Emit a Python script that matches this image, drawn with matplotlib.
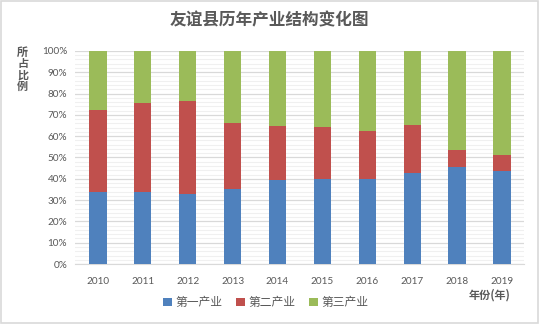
import matplotlib.pyplot as plt
import numpy as np
from matplotlib.patches import Rectangle
from matplotlib.ticker import MultipleLocator, PercentFormatter

plt.rcParams['font.family'] = ['Lato', 'Noto Sans CJK SC', 'DejaVu Sans']

# 历年三次产业占比 (%)
years = ['2010', '2011', '2012', '2013', '2014', '2015', '2016', '2017', '2018', '2019']
primary = [33.9, 34.0, 33.0, 35.2, 39.6, 39.9, 39.9, 42.7, 45.5, 43.7]
secondary = [38.4, 41.6, 43.5, 31.0, 25.2, 24.4, 22.5, 22.6, 8.2, 7.5]
tertiary = [27.7, 24.4, 23.5, 33.8, 35.2, 35.7, 37.6, 34.7, 46.3, 48.8]
labels = ['第一产业', '第二产业', '第三产业']
colors = ['#4F81BD', '#C0504D', '#9BBB59']

grey = '#595959'

fig = plt.figure(figsize=(5.39, 3.24), dpi=100)
ax = fig.add_axes([0.140, 0.185, 0.833, 0.658])

x = np.arange(len(years))
p = np.array(primary)
s = np.array(secondary)
t = np.array(tertiary)
w = 0.385
ax.bar(x, p, w, color=colors[0], label=labels[0], zorder=3)
ax.bar(x, s, w, bottom=p, color=colors[1], label=labels[1], zorder=3)
ax.bar(x, t, w, bottom=p + s, color=colors[2], label=labels[2], zorder=3)

ax.set_xlim(-0.5, len(years) - 0.5)
ax.set_ylim(0, 100)
ax.yaxis.set_major_locator(MultipleLocator(10))
ax.yaxis.set_minor_locator(MultipleLocator(2))
ax.yaxis.set_major_formatter(PercentFormatter(decimals=0))
ax.grid(axis='y', which='major', color='#D9D9D9', lw=0.9, zorder=0)
ax.grid(axis='y', which='minor', color='#F0F0F0', lw=0.8, zorder=0)
ax.set_xticks(x)
ax.set_xticklabels(years)
ax.tick_params(axis='both', which='both', length=0, labelsize=7.2, colors=grey)
ax.tick_params(axis='x', pad=9)
ax.tick_params(axis='y', pad=6)
for sp in ['top', 'right', 'left']:
    ax.spines[sp].set_visible(False)
ax.spines['bottom'].set_color('#D9D9D9')

fig.text(0.5, 0.938, '友谊县历年产业结构变化图', ha='center', va='center',
         fontsize=12, fontweight='bold', color=grey, family='Noto Sans CJK SC')
fig.text(0.042, 0.785, '所\n占\n比\n例', ha='center', va='center', linespacing=0.85,
         fontsize=8, fontweight='heavy', color=grey, family='Noto Sans CJK SC')
fig.text(0.909, 0.089, '年份(年)', ha='center', va='center',
         fontsize=8, fontweight='bold', color=grey, family='Noto Sans CJK SC')

leg = fig.legend(loc='center', bbox_to_anchor=(0.493, 0.066), ncol=3, frameon=False,
                 handlelength=0.7, handleheight=0.7, handletextpad=0.3, columnspacing=1.2,
                 prop={'family': 'Noto Sans CJK SC', 'size': 8.5})
for txt in leg.get_texts():
    txt.set_color(grey)

fig.patches.append(Rectangle((0.002, 0.003), 0.996, 0.994, transform=fig.transFigure,
                             fill=False, edgecolor='#D9D9D9', lw=1.2))

plt.savefig('out.png', dpi=100)
